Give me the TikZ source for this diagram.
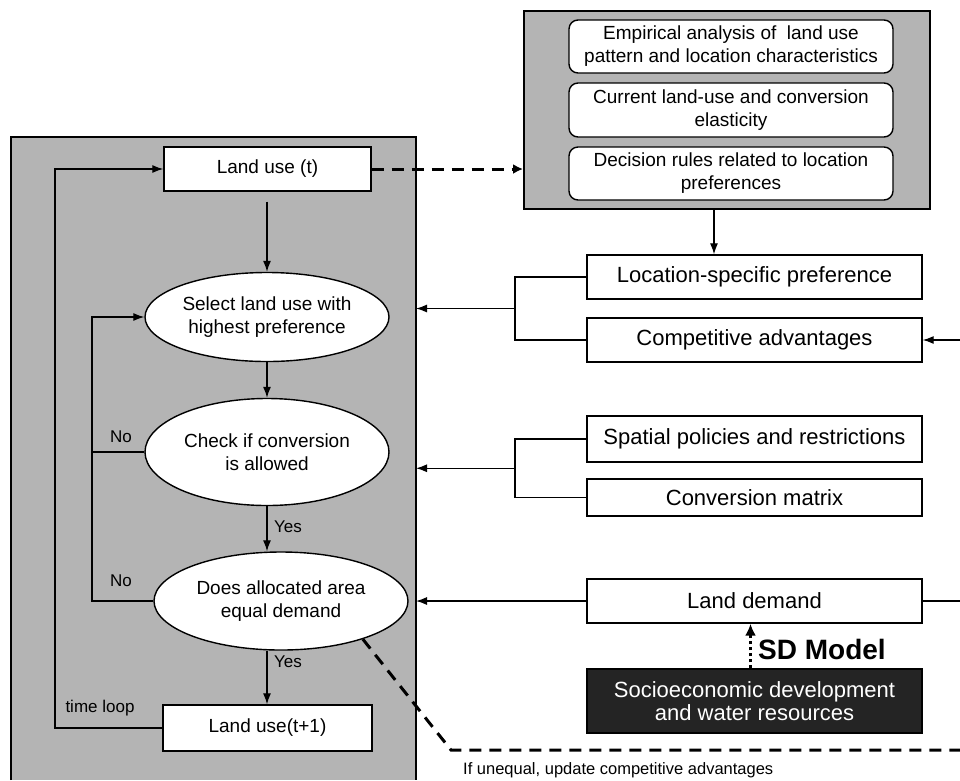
\documentclass[tikz,border=0pt]{standalone}
\usepackage{fontspec}
\setmainfont{Liberation Sans}
\usetikzlibrary{shapes.geometric,arrows.meta,calc}
\definecolor{panelgray}{HTML}{B4B4B4}
\definecolor{sdblack}{HTML}{242424}
\begin{document}
\begin{tikzpicture}[x=1pt,y=-1pt,
  every node/.style={font=\fontsize{19}{23}\selectfont},
  box/.style={draw,fill=white,line width=1.4pt,inner sep=0pt,align=center},
  rbox/.style={box,rounded corners=9pt,minimum width=324pt},
  rtbox/.style={box,minimum width=335pt,font=\fontsize{22}{26}\selectfont},
  oval/.style={ellipse,draw,fill=white,line width=1.4pt,inner sep=0pt,align=center},
  arr/.style={line width=1.2pt,-{Latex[length=11pt,width=8pt]}},
  ln/.style={line width=1.2pt},
  dasharr/.style={line width=3pt,dash pattern=on 12pt off 8pt,-{Latex[length=10pt,width=10pt]}},
  dashln/.style={line width=3pt,dash pattern=on 12pt off 8pt},
  lab/.style={font=\fontsize{17}{20}\selectfont,inner sep=0pt}]
\useasboundingbox (0,0) rectangle (960,780);
\fill[white] (0,0) rectangle (960,780);
% left panel
\fill[panelgray] (11,137) rectangle (416,780);
\draw[line width=1.5pt] (11,780) -- (11,137) -- (416,137) -- (416,780);
\coordinate (pR) at (416,0);
\coordinate (nx) at (92,0);
\coordinate (lx) at (55,0);
\coordinate (edge) at (960,0);
\coordinate (b1) at (515,0);
% right top panel
\node[draw,fill=panelgray,line width=2pt,minimum width=406pt,minimum height=198pt,inner sep=0pt] (pnR) at (727,110) {};
\node[rbox,minimum height=53pt] (r1) at (731,46.5) {Empirical analysis of\ \ land use\\pattern and location characteristics};
\node[rbox,minimum height=54pt] (r2) at (731,110) {Current land-use and conversion\\elasticity};
\node[rbox,minimum height=53pt] (r3) at (731,173.5) {Decision rules related to location\\preferences};
% flow nodes
\node[box,minimum width=207pt,minimum height=44pt] (lut) at (267.5,169) {Land use (t)};
\node[oval,minimum width=244pt,minimum height=89pt] (e1) at (267,317) {Select land use with\\highest preference};
\node[oval,minimum width=244pt,minimum height=107pt] (e2) at (267,452) {Check if conversion\\is allowed};
\node[oval,minimum width=254pt,minimum height=98pt] (e3) at (281,601) {Does allocated area\\equal demand};
\node[box,minimum width=209pt,minimum height=46pt] (lut1) at (267.5,728) {Land use(t+1)};
% right boxes
\node[rtbox,minimum height=44pt] (loc) at (754.5,277) {Location-specific preference};
\node[rtbox,minimum height=44pt] (comp) at (754.5,340) {Competitive advantages};
\node[rtbox,minimum height=46pt] (spat) at (754.5,439) {Spatial policies and restrictions};
\node[rtbox,minimum height=37pt] (conv) at (754.5,497.5) {Conversion matrix};
\node[rtbox,minimum height=44pt] (dem) at (754.5,601) {Land demand};
\node[box,fill=sdblack,text=white,minimum width=335pt,minimum height=64pt,font=\fontsize{22}{23}\selectfont] (soc) at (754.5,701) {Socioeconomic development\\and water resources};
\node[anchor=west,inner sep=0pt,font=\fontsize{28}{30}\bfseries\selectfont] (sd) at (758,649) {SD Model};
% labels
\node[lab] (no1) at (121,437) {No};
\node[lab] (no2) at (121,581) {No};
\node[lab] (yes1) at (288,527) {Yes};
\node[lab] (yes2) at (288,662) {Yes};
\node[lab] (tl) at (100,708) {time loop};
\node[lab,anchor=west,font=\fontsize{16.5}{20}\selectfont] (uneq) at (463,770) {If unequal, update competitive advantages};
% connectors in the left panel
\draw[arr] ([yshift=-10pt]lut.south -| e1.north) -- (e1.north);
\draw[arr] (e1.south) -- (e2.north);
\draw[arr] (e2.south) -- (e2.south |- e3.north);
\draw[arr] (e2.south |- e3.south) -- (lut1.north -| e2.south);
\draw[arr] (lut1.west) -- (lut1.west -| lx) -- (lut.west -| lx) -- (lut.west);
\draw[arr] (e3.west) -- (e3.west -| nx) -- (e1.west -| nx) -- (e1.west);
\draw[ln] (e2.west) -- (e2.west -| nx);
% dashed connectors
\draw[dasharr] (lut.east) -- (lut.east -| pnR.west);
\coordinate (dc) at (451,750);
\draw[dashln] (e3.-25) -- (dc) -- (dc -| edge);
% top-right panel to location box
\draw[arr] ([xshift=-13pt]pnR.south) -- ([xshift=-13pt]pnR.south |- loc.north);
% bracket 1
\draw[ln] (loc.west) -- (loc.west -| b1) -- (comp.west -| b1) -- (comp.west);
\coordinate (m1) at ($(loc.west -| b1)!0.5!(comp.west -| b1)$);
\draw[arr] (m1) -- (m1 -| pR);
% bracket 2
\draw[ln] (spat.west) -- (spat.west -| b1) -- (conv.west -| b1) -- (conv.west);
\coordinate (m2) at ($(spat.west -| b1)!0.5!(conv.west -| b1)$);
\draw[arr] (m2) -- (m2 -| pR);
% land demand
\draw[arr] (dem.west) -- (dem.west -| pR);
\draw[ln] (dem.east) -- (dem.east -| edge);
\draw[arr] (comp.east -| edge) -- (comp.east);
% SD model dotted arrow
\draw[line width=3pt,dash pattern=on 3pt off 3pt,-{Latex[length=12pt,width=11pt]}] ([xshift=-4pt]soc.north) -- ([xshift=-4pt]dem.south);
\end{tikzpicture}
\end{document}
